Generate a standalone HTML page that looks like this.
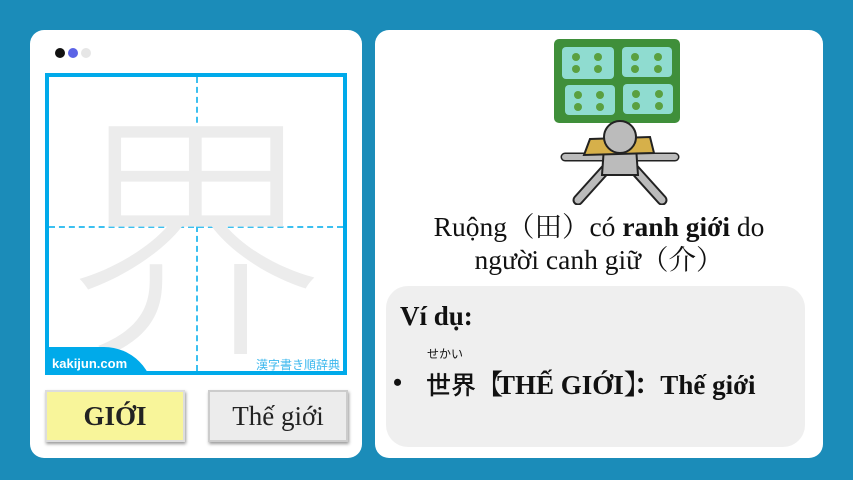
<!DOCTYPE html>
<html><head><meta charset="utf-8"><style>
body{margin:0;width:853px;height:480px;background:#1b8cb9;position:relative;overflow:hidden;font-family:"Liberation Serif","Noto Serif CJK SC",serif}
.card{position:absolute;background:#fff;border-radius:14px}
.abs{position:absolute}
</style></head><body>
<div class="card" style="left:30px;top:30px;width:332px;height:428px"></div>
<div class="card" style="left:375px;top:30px;width:448px;height:428px"></div>
<div class="abs" style="left:55px;top:48px;width:10px;height:10px;border-radius:50%;background:#111"></div>
<div class="abs" style="left:68px;top:48px;width:10px;height:10px;border-radius:50%;background:#5b63e6"></div>
<div class="abs" style="left:81px;top:48px;width:10px;height:10px;border-radius:50%;background:#e6e6e6"></div>
<div class="abs" style="left:45px;top:73px;width:294px;height:294px;border:4px solid #00aaea;background:#fff;overflow:hidden">
 <div class="abs" style="left:147px;top:0;height:294px;border-left:2px dashed #3cc0f0"></div>
 <div class="abs" style="top:149px;left:0;width:294px;border-top:2px dashed #3cc0f0"></div>
 <div class="abs" style="left:-3px;top:15px;width:300px;text-align:center;font-size:260px;line-height:260px;height:260px;color:#ececec;font-family:'Noto Sans CJK JP',sans-serif;font-weight:300">界</div>
 <div class="abs" style="left:-20px;top:270px;width:125px;height:50px;background:#00aaea;border-radius:0 60px 0 0"></div>
 <div class="abs" style="left:3px;top:279px;color:#fff;font:bold 13px 'Liberation Sans',sans-serif">kakijun.com</div>
 <div class="abs" style="right:3px;top:279px;color:#3cb8ee;font:12px 'Noto Sans CJK JP',sans-serif">漢字書き順辞典</div>
</div>
<div class="abs" style="left:45px;top:390px;width:136px;height:48px;background:#f8f59a;border:2px solid #ddd;box-shadow:1px 2px 3px #999;text-align:center;font:bold 27px/48px 'Liberation Serif',serif;color:#222">GIỚI</div>
<div class="abs" style="left:208px;top:390px;width:136px;height:48px;background:#ececec;border:2px solid #ccc;box-shadow:1px 2px 3px #999;text-align:center;font:27px/48px 'Liberation Serif',serif;color:#222">Thế giới</div>
<svg class="abs" style="left:540px;top:35px" width="160" height="170" viewBox="0 0 160 170">
 <rect x="14" y="4" width="126" height="84" rx="5" fill="#3f8f3a"/>
 <rect x="22" y="12" width="52" height="32" rx="4" fill="#8fdcd0"/>
 <rect x="82" y="12" width="50" height="30" rx="4" fill="#8fdcd0"/>
 <rect x="25" y="50" width="50" height="30" rx="4" fill="#8fdcd0"/>
 <rect x="83" y="49" width="50" height="30" rx="4" fill="#8fdcd0"/>
 <g fill="#5aa040"><circle cx="36" cy="22" r="4"/><circle cx="58" cy="22" r="4"/><circle cx="36" cy="34" r="4"/><circle cx="58" cy="34" r="4"/><circle cx="95" cy="22" r="4"/><circle cx="118" cy="22" r="4"/><circle cx="95" cy="34" r="4"/><circle cx="118" cy="34" r="4"/><circle cx="38" cy="60" r="4"/><circle cx="60" cy="60" r="4"/><circle cx="38" cy="72" r="4"/><circle cx="60" cy="72" r="4"/><circle cx="96" cy="59" r="4"/><circle cx="119" cy="59" r="4"/><circle cx="96" cy="71" r="4"/><circle cx="119" cy="71" r="4"/></g>
 <path d="M65 135 L38 165 M95 135 L122 165" stroke="#222" stroke-width="11" stroke-linecap="round"/>
 <path d="M65 135 L38 165 M95 135 L122 165" stroke="#bbb" stroke-width="7" stroke-linecap="round"/>
 <path d="M25 122 L135 122" stroke="#222" stroke-width="9" stroke-linecap="round"/><path d="M25 122 L135 122" stroke="#bbb" stroke-width="6" stroke-linecap="round"/>
 <path d="M64 112 L96 112 L98 140 L62 140 Z" fill="#bbb" stroke="#222" stroke-width="2"/>
 <polygon points="50,104 110,102 114,118 44,120" fill="#d6b04a" stroke="#222" stroke-width="2"/>
 <circle cx="80" cy="102" r="16" fill="#bbb" stroke="#222" stroke-width="2"/>
</svg>
<div class="abs" style="left:365px;top:210px;width:468px;text-align:center;font-size:27.5px;line-height:33px;color:#111;white-space:nowrap">Ruộng（田）có <b>ranh giới</b> do<br>người canh giữ（介）</div>
<div class="abs" style="left:386px;top:286px;width:419px;height:161px;background:#efefef;border-radius:22px"></div>
<div class="abs" style="left:400px;top:301px;font:bold 27px 'Liberation Serif',serif;color:#111">Ví dụ:</div>
<div class="abs" style="left:427px;top:345px;font:12px 'Noto Sans CJK JP',sans-serif;color:#111">せかい</div>
<div class="abs" style="left:393px;top:368px;font:bold 26px 'Liberation Serif',serif;color:#111">•</div>
<div class="abs" style="left:426px;top:363px;font:bold 27px 'Liberation Serif','Noto Serif CJK SC',serif;color:#111;white-space:nowrap"><span style="font-family:'Noto Sans CJK JP',sans-serif;font-weight:500;font-size:25px">世界</span><span style="letter-spacing:-6px">【</span>THẾ GIỚI<span style="letter-spacing:-4px">】</span>：Thế giới</div>
</body></html>
